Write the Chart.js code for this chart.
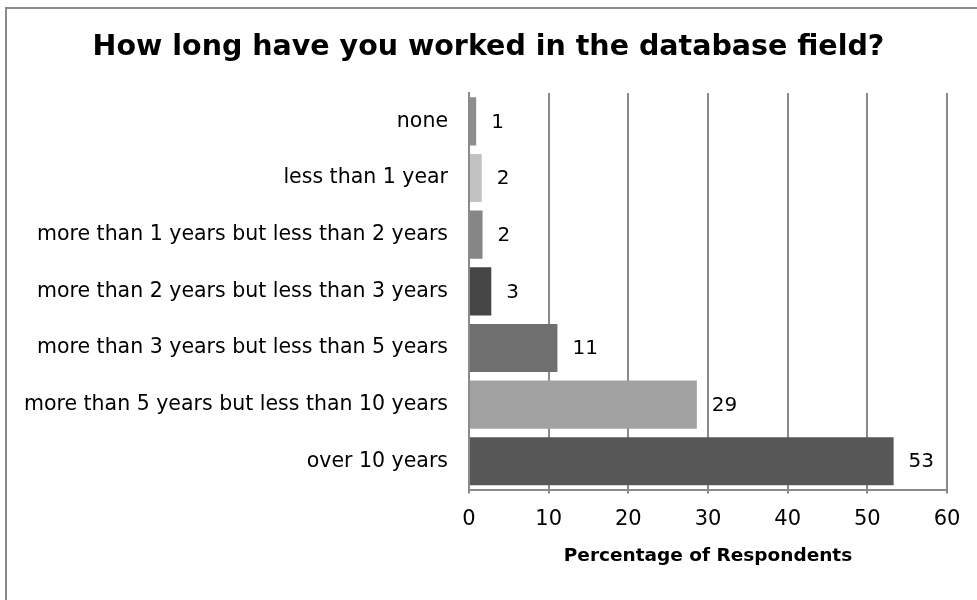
<!DOCTYPE html>
<html>
<head>
<meta charset="utf-8">
<script src="https://cdn.jsdelivr.net/npm/chart.js@4/dist/chart.umd.min.js"></script>
<style>
  html, body { margin: 0; padding: 0; background: #fff; overflow: hidden; }
  #wrap { position: relative; width: 977px; height: 600px; }
  #frame { position: absolute; left: 5px; top: 7px; width: 1100px; height: 800px; border: 2px solid #8a8a8a; box-sizing: border-box; }
  canvas { position: absolute; left: 0; top: 0; }
</style>
</head>
<body>
<div id="wrap">
  <div id="frame"></div>
  <canvas id="c" width="977" height="600"></canvas>
</div>
<script>
const categories = [
  "none",
  "less than 1 year",
  "more than 1 years but less than 2 years",
  "more than 2 years but less than 3 years",
  "more than 3 years but less than 5 years",
  "more than 5 years but less than 10 years",
  "over 10 years"
];
const percentages = [0.9, 1.6, 1.7, 2.8, 11.1, 28.6, 53.3];
const barColors = ["#8e8e8e", "#c2c2c2", "#868686", "#464646", "#6f6f6f", "#a2a2a2", "#575757"];
const xTicks = [0, 10, 20, 30, 40, 50, 60];

const FONT = "'DejaVu Sans', sans-serif";

const valueLabels = {
  id: 'valueLabels',
  afterDatasetsDraw(chart) {
    const ctx = chart.ctx;
    const meta = chart.getDatasetMeta(0);
    ctx.save();
    ctx.font = "20px " + FONT;
    ctx.fillStyle = "#000";
    ctx.textAlign = "left";
    ctx.textBaseline = "middle";
    meta.data.forEach((bar, i) => {
      ctx.fillText(String(Math.round(percentages[i])), bar.x + 15, bar.y + 1);
    });
    ctx.restore();
  }
};

new Chart(document.getElementById('c'), {
  type: 'bar',
  data: {
    labels: categories,
    datasets: [{
      data: percentages,
      backgroundColor: barColors,
      borderWidth: 0,
      categoryPercentage: 1.0,
      barPercentage: 0.85
    }]
  },
  options: {
    indexAxis: 'y',
    responsive: false,
    animation: false,
    devicePixelRatio: 1,
    layout: { padding: { left: 0, right: 0, top: 0, bottom: 33 } },
    plugins: {
      legend: { display: false },
      tooltip: { enabled: false },
      title: {
        display: true,
        text: "How long have you worked in the database field?",
        color: "#000",
        font: { family: FONT, size: 28.5, weight: 'bold' },
        padding: { top: 30, bottom: 28.8 }
      }
    },
    scales: {
      x: {
        min: 0, max: 60,
        afterBuildTicks(scale) { scale.ticks = xTicks.map(v => ({ value: v })); },
        grid: { color: "#8a8a8a", lineWidth: 2, tickLength: 4, drawTicks: true },
        border: { display: true, color: "#8a8a8a", width: 2 },
        ticks: { color: "#000", font: { family: FONT, size: 21 }, padding: 13 },
        title: {
          display: true,
          text: "Percentage of Respondents",
          color: "#000",
          font: { family: FONT, size: 18.5, weight: 'bold' },
          padding: { top: 0, bottom: 0 }
        }
      },
      y: {
        afterFit(scale) { scale.width = 469; },
        grid: { display: false, drawTicks: false },
        border: { display: true, color: "#8a8a8a", width: 2 },
        ticks: { color: "#000", font: { family: FONT, size: 20.5 }, padding: 21, crossAlign: 'near' }
      },
      spacer: {
        type: 'linear',
        position: 'right',
        display: true,
        afterFit(scale) { scale.width = 30; },
        grid: { display: false, drawTicks: false },
        border: { display: false },
        ticks: { display: false }
      }
    }
  },
  plugins: [valueLabels]
});
</script>
</body>
</html>
